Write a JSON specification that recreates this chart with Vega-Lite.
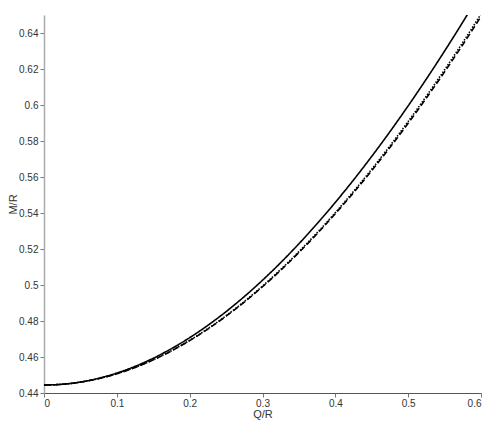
{
  "$schema": "https://vega.github.io/schema/vega-lite/v6.json",
  "width": 437,
  "height": 378,
  "autosize": {"type": "none"},
  "padding": {"left": 44, "top": 15, "right": 17, "bottom": 40},
  "background": "white",
  "config": {
    "view": {"stroke": null},
    "font": "Liberation Sans",
    "axis": {"grid": false, "labelFont": "Liberation Sans", "titleFont": "Liberation Sans", "labelFontSize": 10, "titleFontSize": 11, "titleFontWeight": "normal", "labelColor": "#333", "titleColor": "#333", "tickColor": "#777", "domainColor": "#888", "tickSize": 4}
  },
  "data": {"values": [
    {"q": 0, "m": 0.44444, "c": "a"},
    {"q": 0.025, "m": 0.44486, "c": "a"},
    {"q": 0.05, "m": 0.44611, "c": "a"},
    {"q": 0.075, "m": 0.44819, "c": "a"},
    {"q": 0.1, "m": 0.45109, "c": "a"},
    {"q": 0.125, "m": 0.4548, "c": "a"},
    {"q": 0.15, "m": 0.45932, "c": "a"},
    {"q": 0.175, "m": 0.46464, "c": "a"},
    {"q": 0.2, "m": 0.47073, "c": "a"},
    {"q": 0.225, "m": 0.4776, "c": "a"},
    {"q": 0.25, "m": 0.48522, "c": "a"},
    {"q": 0.275, "m": 0.49357, "c": "a"},
    {"q": 0.3, "m": 0.50265, "c": "a"},
    {"q": 0.325, "m": 0.51244, "c": "a"},
    {"q": 0.35, "m": 0.52292, "c": "a"},
    {"q": 0.375, "m": 0.53408, "c": "a"},
    {"q": 0.4, "m": 0.5459, "c": "a"},
    {"q": 0.425, "m": 0.55837, "c": "a"},
    {"q": 0.45, "m": 0.57147, "c": "a"},
    {"q": 0.475, "m": 0.5852, "c": "a"},
    {"q": 0.5, "m": 0.59953, "c": "a"},
    {"q": 0.525, "m": 0.61446, "c": "a"},
    {"q": 0.55, "m": 0.62997, "c": "a"},
    {"q": 0.575, "m": 0.64606, "c": "a"},
    {"q": 0.6, "m": 0.66279, "c": "a"},
    {"q": 0, "m": 0.44444, "c": "b"},
    {"q": 0.025, "m": 0.44484, "c": "b"},
    {"q": 0.05, "m": 0.44602, "c": "b"},
    {"q": 0.075, "m": 0.44798, "c": "b"},
    {"q": 0.1, "m": 0.45071, "c": "b"},
    {"q": 0.125, "m": 0.45422, "c": "b"},
    {"q": 0.15, "m": 0.45849, "c": "b"},
    {"q": 0.175, "m": 0.46351, "c": "b"},
    {"q": 0.2, "m": 0.46926, "c": "b"},
    {"q": 0.225, "m": 0.47574, "c": "b"},
    {"q": 0.25, "m": 0.48293, "c": "b"},
    {"q": 0.275, "m": 0.49082, "c": "b"},
    {"q": 0.3, "m": 0.49939, "c": "b"},
    {"q": 0.325, "m": 0.50863, "c": "b"},
    {"q": 0.35, "m": 0.51853, "c": "b"},
    {"q": 0.375, "m": 0.52906, "c": "b"},
    {"q": 0.4, "m": 0.54022, "c": "b"},
    {"q": 0.425, "m": 0.55199, "c": "b"},
    {"q": 0.45, "m": 0.56436, "c": "b"},
    {"q": 0.475, "m": 0.57731, "c": "b"},
    {"q": 0.5, "m": 0.59084, "c": "b"},
    {"q": 0.525, "m": 0.60494, "c": "b"},
    {"q": 0.55, "m": 0.61958, "c": "b"},
    {"q": 0.575, "m": 0.63477, "c": "b"},
    {"q": 0.6, "m": 0.65056, "c": "b"},
    {"q": 0, "m": 0.44444, "c": "c"},
    {"q": 0.025, "m": 0.44483, "c": "c"},
    {"q": 0.05, "m": 0.44601, "c": "c"},
    {"q": 0.075, "m": 0.44795, "c": "c"},
    {"q": 0.1, "m": 0.45067, "c": "c"},
    {"q": 0.125, "m": 0.45416, "c": "c"},
    {"q": 0.15, "m": 0.4584, "c": "c"},
    {"q": 0.175, "m": 0.46338, "c": "c"},
    {"q": 0.2, "m": 0.4691, "c": "c"},
    {"q": 0.225, "m": 0.47553, "c": "c"},
    {"q": 0.25, "m": 0.48268, "c": "c"},
    {"q": 0.275, "m": 0.49051, "c": "c"},
    {"q": 0.3, "m": 0.49903, "c": "c"},
    {"q": 0.325, "m": 0.50821, "c": "c"},
    {"q": 0.35, "m": 0.51803, "c": "c"},
    {"q": 0.375, "m": 0.5285, "c": "c"},
    {"q": 0.4, "m": 0.53958, "c": "c"},
    {"q": 0.425, "m": 0.55127, "c": "c"},
    {"q": 0.45, "m": 0.56356, "c": "c"},
    {"q": 0.475, "m": 0.57643, "c": "c"},
    {"q": 0.5, "m": 0.58987, "c": "c"},
    {"q": 0.525, "m": 0.60387, "c": "c"},
    {"q": 0.55, "m": 0.61841, "c": "c"},
    {"q": 0.575, "m": 0.6335, "c": "c"},
    {"q": 0.6, "m": 0.64919, "c": "c"}
  ]},
  "mark": {"type": "line", "clip": true, "color": "black", "strokeWidth": 1.6, "interpolate": "monotone"},
  "encoding": {
    "x": {"field": "q", "type": "quantitative", "title": "Q/R",
      "scale": {"domain": [0, 0.6], "nice": false, "zero": false},
      "axis": {"values": [0, 0.1, 0.2, 0.3, 0.4, 0.5, 0.6], "format": ".1~f", "titlePadding": 0, "domainColor": "#555", "labelPadding": 1}},
    "y": {"field": "m", "type": "quantitative", "title": "M/R",
      "scale": {"domain": [0.44, 0.65], "nice": false, "zero": false},
      "axis": {"values": [0.44, 0.46, 0.48, 0.5, 0.52, 0.54, 0.56, 0.58, 0.6, 0.62, 0.64], "format": ".2~f", "titlePadding": 0, "domainColor": "#aaa", "domainWidth": 1.5}},
    "detail": {"field": "c"},
    "strokeDash": {"field": "c", "type": "nominal", "legend": null,
      "scale": {"domain": ["a", "b", "c"], "range": [[1, 0], [1.5, 1.5], [6, 3]]}}
  }
}
